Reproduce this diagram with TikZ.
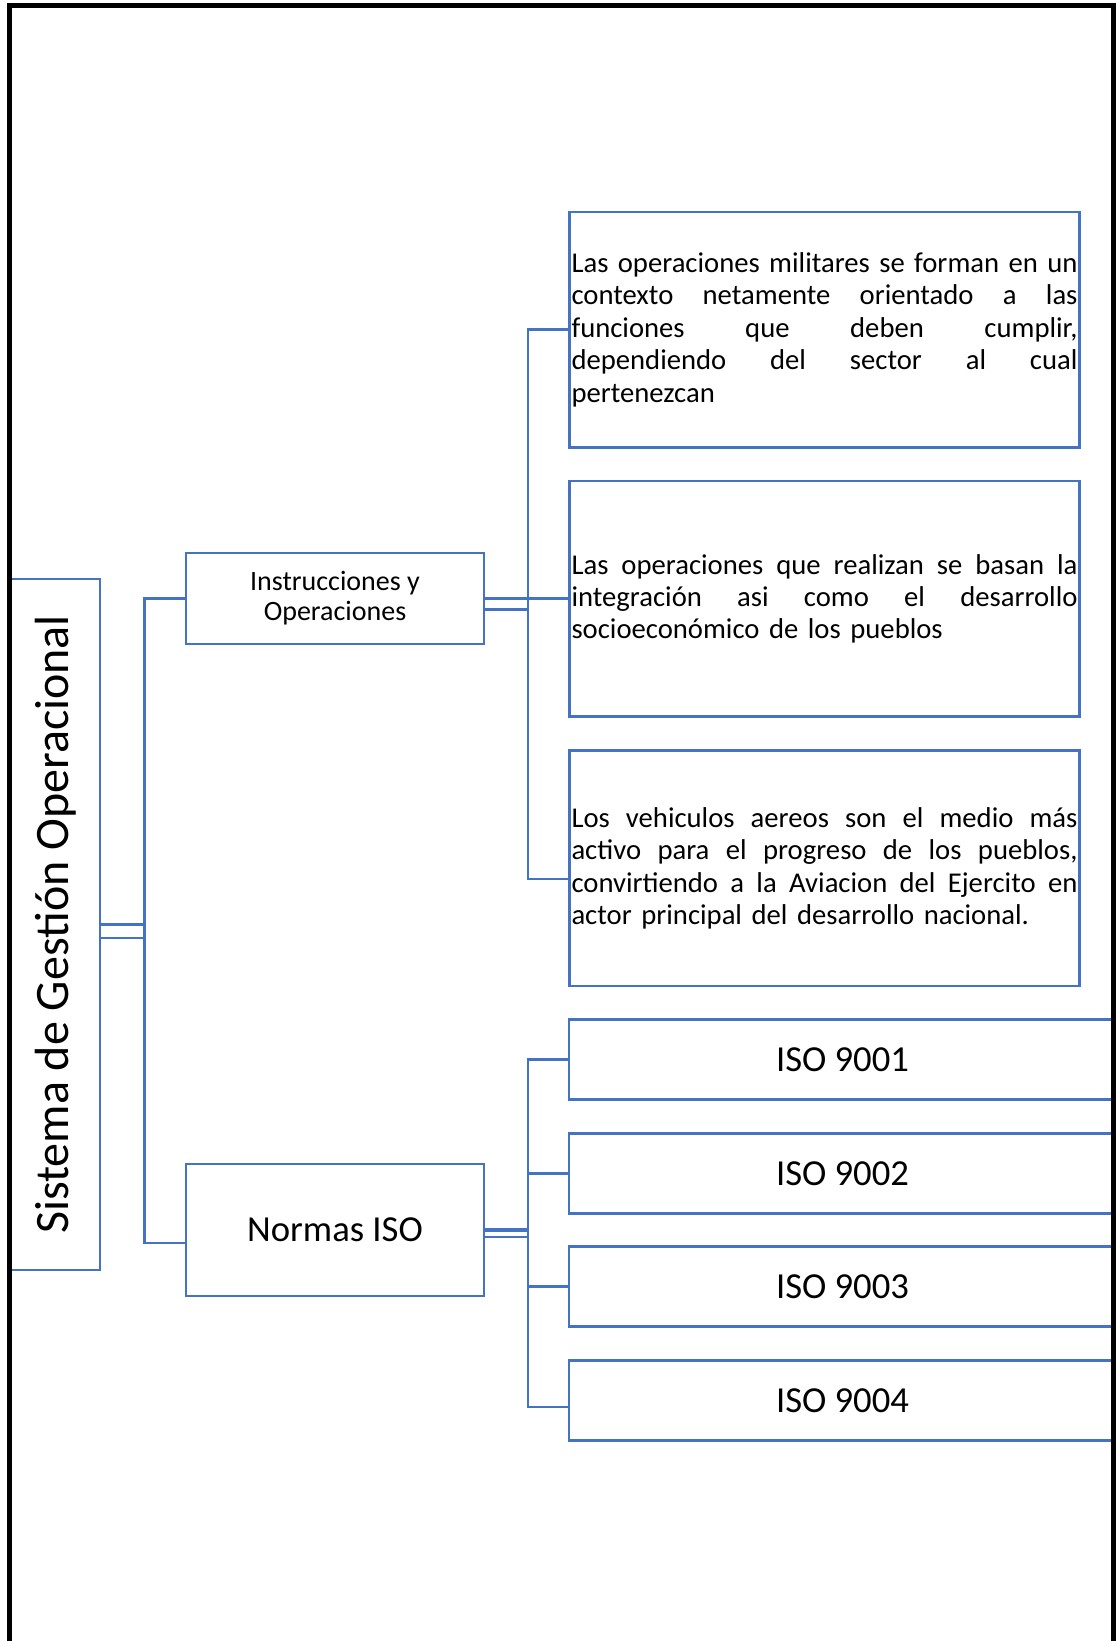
\documentclass[tikz,border=0pt]{standalone}
\usepackage{fontspec}
\setmainfont{Carlito}
\usetikzlibrary{calc}
\definecolor{ofblue}{HTML}{4472C4}
\newcommand{\tw}{379.5pt}
\newcommand{\jl}[1]{\leavevmode\hbox to \tw{\spaceskip=0.23em plus 3em minus 0.08em\relax #1}}
\begin{document}
\begin{tikzpicture}[x=0.75pt,y=-0.75pt,
  conn/.style={draw=ofblue,line width=1.9pt},
  bbox/.style={draw=ofblue,line width=1.9pt,inner sep=0pt,rectangle},
  txtbox/.style={bbox,minimum width=382.5pt,minimum height=176.6pt,text width=\tw,align=left,font=\fontsize{21.5}{24.3}\selectfont},
  isobox/.style={bbox,minimum width=410.25pt,minimum height=60pt,font=\fontsize{27.5}{30}\selectfont},
  framestyle/.style={draw=black,line width=3.75pt}]
\useasboundingbox (0,0) rectangle (1115,1641);

% boxes
\node[bbox,minimum width=66.75pt,minimum height=518.25pt] (main) at (55.5,924.5)
  {\rotatebox{90}{\fontsize{36}{40}\selectfont Sistema de Gestión Operacional}};
\node[bbox,minimum width=223.5pt,minimum height=68.25pt,align=center,
  font=\fontsize{21}{22.5}\selectfont] (instr) at (335,598.5) {Instrucciones y\\Operaciones};
\node[bbox,minimum width=223.5pt,minimum height=99pt,
  font=\fontsize{27.5}{30}\selectfont] (normas) at (335,1230) {Normas ISO};

\node[txtbox] (t1) at (824.5,329.75) {\jl{Las operaciones militares se forman en un}\\
  \jl{contexto netamente orientado a las}\\
  \jl{funciones que deben cumplir,}\\
  \jl{dependiendo del sector al cual}\\
  pertenezcan};
\node[txtbox] (t2) at (824.5,598.8) {\jl{Las operaciones que realizan se basan la}\\
  \jl{integración asi como el desarrollo}\\
  socioeconómico de los pueblos};
\node[txtbox] (t3) at (824.5,868.4) {\jl{Los vehiculos aereos son el medio más}\\
  \jl{activo para el progreso de los pueblos,}\\
  \jl{convirtiendo a la Aviacion del Ejercito en}\\
  actor principal del desarrollo nacional.};

\node[isobox] (i1) at (842.5,1059.3) {ISO 9001};
\node[isobox] (i2) at (842.5,1173.3) {ISO 9002};
\node[isobox] (i3) at (842.5,1286.5) {ISO 9003};
\node[isobox] (i4) at (842.5,1400.3) {ISO 9004};

% connectors
\coordinate (mx) at (144.5,924.5);
\coordinate (bx) at (528,598.5);
\draw[conn] (main.east) -- (mx |- main.east) |- (instr.west);
\coordinate (mB) at ($(main.east)+(0,13.5)$);
\coordinate (nW) at ($(normas.west)+(0,13)$);
\draw[conn] (mB) -- (mx |- mB) -- (mx |- main.east) -- (mx |- nW) -- (nW);

\draw[conn] (instr.east) -- (instr.east -| t2.west);
\coordinate (iB) at ($(instr.east)+(0,11)$);
\coordinate (t3c) at ($(t3.west)+(0,10.5)$);
\draw[conn] (iB) -- (bx |- iB);
\draw[conn] (t1.west) -| (bx |- t3c) -- (t3c);

\draw[conn,line width=3.2pt] (normas.east) -- (bx |- normas.east);
\coordinate (nB) at ($(normas.east)+(0,7)$);
\draw[conn] (nB) -- (bx |- nB);
\coordinate (i4c) at ($(i4.west)+(0,6.7)$);
\draw[conn] (i1.west) -| (bx |- i4c) -- (i4c);
\draw[conn] (i2.west) -- (bx |- i2.west);
\draw[conn] (i3.west) -- (bx |- i3.west);

% outer frame
\draw[framestyle] (9,1641) -- (9,6) -- (1113,6) -- (1113,1641);
\end{tikzpicture}
\end{document}
